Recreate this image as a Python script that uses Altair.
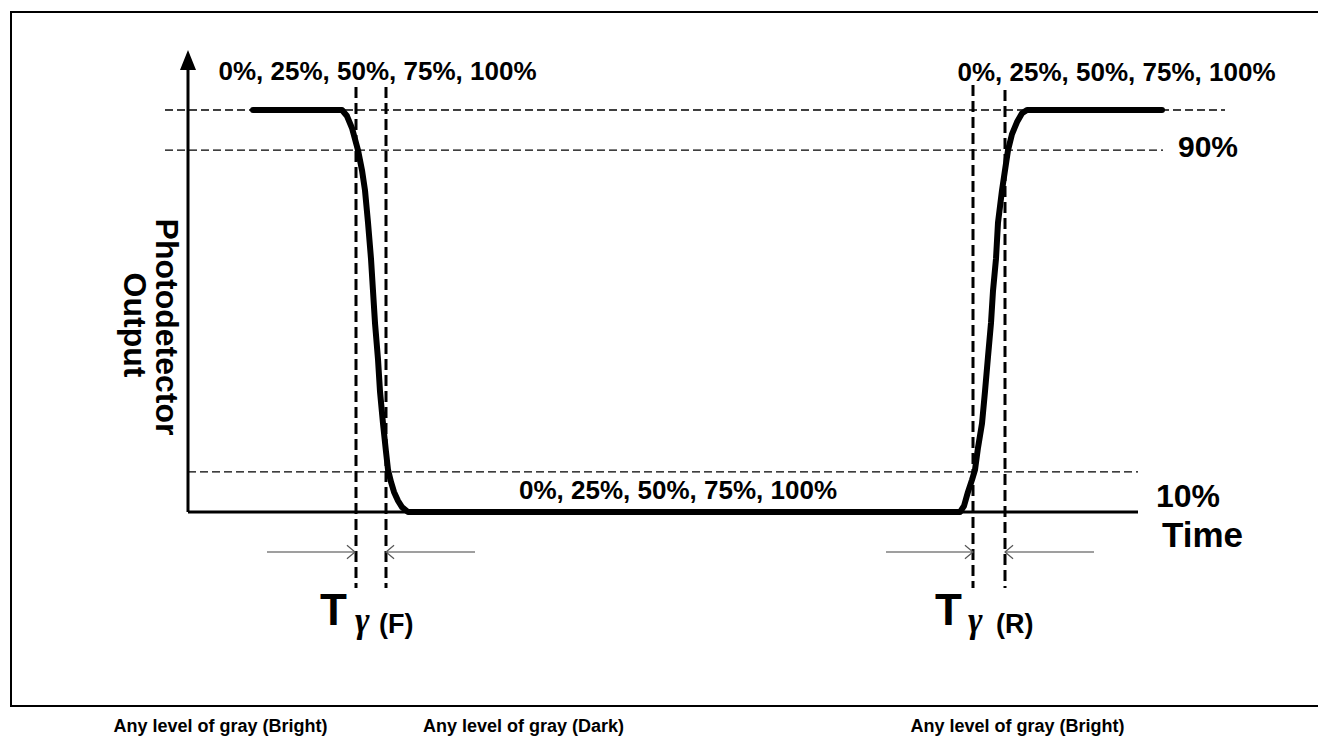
import altair as alt
import pandas as pd

# ---------------- data (time in arbitrary units, output level in %) ----------------
curve_time = [65, 154, 159, 164, 170, 174, 177, 180, 183, 185, 187, 190, 192, 195, 198, 200, 203, 206, 210, 214, 220,
              772, 776, 780, 784, 787, 790, 794, 797, 800, 803, 805, 808, 810, 814, 817, 820, 824, 829, 834, 839, 974]
curve_level = [100, 100, 98.5, 95.5, 90, 85, 80, 72, 63, 55, 47, 38, 30, 22, 15, 10.5, 7.5, 5, 2.8, 1.2, 0,
               0, 1.5, 5, 8, 10.5, 16, 22, 30, 38.6, 47, 55, 63, 72, 80, 85, 90, 94, 97, 99.2, 100, 100]

ref_levels = [100, 90, 10]
ref_start = [-23, -23, 0]
ref_end = [1037, 975, 950]

marker_time = [168, 198, 785, 817]
marker_top = [105.72, 105.72, 106.22, 104.98]
marker_bottom = [-18.91, -18.91, -18.91, -18.91]

arrow_from = [79, 287, 698, 906]
arrow_to = [167, 198, 785, 817]
arrow_dir = ["right", "left", "right", "left"]
arrow_level = [-9.95, -9.95, -9.95, -9.95]

pct_text = ["0%, 25%, 50%, 75%, 100%"] * 3
pct_time = [189.5, 928.5, 490]
pct_level = [107.34, 107.21, 3.23]

side_text = ["90%", "10%", "Time"]
side_time = [990, 968, 974]
side_level = [88.31, 1.24, -8.71]
side_size = [30, 32, 35]

t_text = ["T", "T"]
t_time = [132, 747]
t_level = [-28.11, -28.11]
gamma_time = [167, 780]
gamma_level = [-29.85, -29.85]
sub_text = ["(F)", "(R)"]
sub_time = [191, 808]
sub_level = [-30.10, -30.10]

ytitle_text = ["Photodetector", "Output"]
ytitle_time = [-32, -64]
ytitle_level = [46.02, 46.52]

gray_text = ["Any level of gray (Bright)", "Any level of gray (Dark)", "Any level of gray (Bright)"]
gray_time = [32.5, 335.5, 829.5]
gray_level = [-54.73, -54.73, -54.73]

frame_time = [-177, 1145]
frame_level = [124.38, -48.26]

axis_end_time = 950
axis_top_level = 110.45
arrowhead_level = 112.44

# ---------------- scales ----------------
X = lambda f="t": alt.X(f"{f}:Q", scale=alt.Scale(domain=[-180, 1130], nice=False, zero=False), axis=None)
Y = lambda f="level": alt.Y(f"{f}:Q", scale=alt.Scale(domain=[-56.219, 125.373], nice=False, zero=False), axis=None)

SANS = "Liberation Sans, Arial, Helvetica, sans-serif"

# frame
frame = alt.Chart(pd.DataFrame({"t": [frame_time[0]], "t2": [frame_time[1]],
                                "level": [frame_level[0]], "level2": [frame_level[1]]})).mark_rect(
    fill=None, stroke="black", strokeWidth=2).encode(x=X(), x2="t2:Q", y=Y(), y2="level2:Q")

# dashed reference levels
refs = alt.Chart(pd.DataFrame({"t": ref_start, "t2": ref_end, "level": ref_levels})).mark_rule(
    color="black", strokeWidth=1.3, strokeDash=[8, 4]).encode(x=X(), x2="t2:Q", y=Y())

# vertical dashed markers
markers = alt.Chart(pd.DataFrame({"t": marker_time, "level": marker_top, "level2": marker_bottom})).mark_rule(
    color="black", strokeWidth=3, strokeDash=[11, 5]).encode(x=X(), y=Y(), y2="level2:Q")

# axes
xaxis = alt.Chart(pd.DataFrame({"t": [0], "t2": [axis_end_time], "level": [0]})).mark_rule(
    color="black", strokeWidth=3).encode(x=X(), x2="t2:Q", y=Y())
yaxis = alt.Chart(pd.DataFrame({"t": [0], "level": [0], "level2": [axis_top_level]})).mark_rule(
    color="black", strokeWidth=3).encode(x=X(), y=Y(), y2="level2:Q")
yhead = alt.Chart(pd.DataFrame({"t": [0], "level": [arrowhead_level]})).mark_point(
    shape="M0,-1L0.8,1L-0.8,1Z", filled=True, color="black", opacity=1, size=400).encode(x=X(), y=Y())

# response curve
curve = alt.Chart(pd.DataFrame({"t": curve_time, "level": curve_level, "i": list(range(len(curve_time)))})).mark_line(
    color="black", strokeWidth=6, strokeCap="round", strokeJoin="round").encode(x=X(), y=Y(), order="i:Q")

# timing arrows
arr_df = pd.DataFrame({"t": arrow_from, "t2": arrow_to, "level": arrow_level, "dir": arrow_dir})
arrows = alt.Chart(arr_df).mark_rule(color="#7f7f7f", strokeWidth=1.3).encode(x=X(), x2="t2:Q", y=Y())
heads_r = alt.Chart(arr_df).transform_filter(alt.datum.dir == "right").mark_point(
    shape="M-1.2,-1L0,0L-1.2,1", filled=False, stroke="#555555", strokeWidth=1.2, opacity=1, size=180).encode(
    x=X("t2"), y=Y())
heads_l = alt.Chart(arr_df).transform_filter(alt.datum.dir == "left").mark_point(
    shape="M1.2,-1L0,0L1.2,1", filled=False, stroke="#555555", strokeWidth=1.2, opacity=1, size=180).encode(
    x=X("t2"), y=Y())

# texts
pct = alt.Chart(pd.DataFrame({"t": pct_time, "level": pct_level, "txt": pct_text})).mark_text(
    font=SANS, fontWeight="bold", fontSize=26, align="center", baseline="alphabetic", color="black").encode(
    x=X(), y=Y(), text="txt:N")

side = alt.Chart(pd.DataFrame({"t": side_time, "level": side_level, "txt": side_text, "s": side_size})).mark_text(
    font=SANS, fontWeight="bold", align="left", baseline="alphabetic", color="black").encode(
    x=X(), y=Y(), text="txt:N", size=alt.Size("s:Q", scale=None, legend=None))

tbig = alt.Chart(pd.DataFrame({"t": t_time, "level": t_level, "txt": t_text})).mark_text(
    font=SANS, fontWeight="bold", fontSize=44, align="left", baseline="alphabetic", color="black").encode(
    x=X(), y=Y(), text="txt:N")
gamma = alt.Chart(pd.DataFrame({"t": gamma_time, "level": gamma_level, "txt": ["γ", "γ"]})).mark_text(
    font="Liberation Serif, DejaVu Serif, serif", fontWeight="bold", fontStyle="italic", fontSize=35,
    align="left", baseline="alphabetic", color="black").encode(x=X(), y=Y(), text="txt:N")
sub = alt.Chart(pd.DataFrame({"t": sub_time, "level": sub_level, "txt": sub_text})).mark_text(
    font=SANS, fontWeight="bold", fontSize=27, align="left", baseline="alphabetic", color="black").encode(
    x=X(), y=Y(), text="txt:N")

ytitle = alt.Chart(pd.DataFrame({"t": ytitle_time, "level": ytitle_level, "txt": ytitle_text})).mark_text(
    font=SANS, fontWeight="bold", fontSize=32, align="center", baseline="alphabetic", angle=90,
    color="black").encode(x=X(), y=Y(), text="txt:N")

gray = alt.Chart(pd.DataFrame({"t": gray_time, "level": gray_level, "txt": gray_text})).mark_text(
    font=SANS, fontWeight="bold", fontSize=18, align="center", baseline="alphabetic", color="black").encode(
    x=X(), y=Y(), text="txt:N")

chart = alt.layer(
    frame, refs, markers, xaxis, yaxis, yhead, curve, arrows, heads_r, heads_l,
    pct, side, tbig, gamma, sub, ytitle, gray
).properties(
    width=1310, height=730, padding=0,
    autosize=alt.AutoSizeParams(type="none"), background="white"
).configure_view(stroke=None)

chart.save("out.html", embed_options={"renderer": "svg", "actions": False})
